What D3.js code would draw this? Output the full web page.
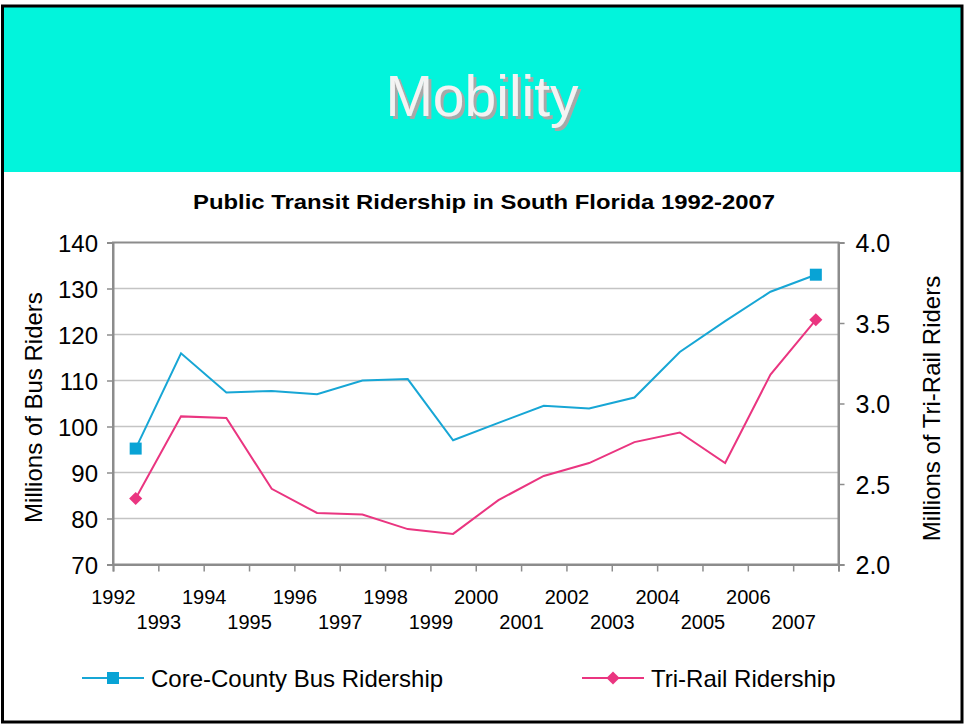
<!DOCTYPE html>
<html>
<head>
<meta charset="utf-8">
<script src="https://cdn.jsdelivr.net/npm/d3@7.9.0/dist/d3.min.js"></script>
<style>
  body { margin: 0; background: #fff; }
  text { font-family: "Liberation Sans", Arial, sans-serif; }
</style>
</head>
<body>
<svg id="chart"></svg>
<script>
const years = [1992, 1993, 1994, 1995, 1996, 1997, 1998, 1999, 2000, 2001, 2002, 2003, 2004, 2005, 2006, 2007];
const busRiders = [95.2, 115.9, 107.4, 107.7, 107.0, 110.0, 110.3, 97.0, 100.8, 104.5, 103.9, 106.3, 116.2, 122.9, 129.3, 133.0];
const triRailRiders = [2.41, 2.92, 2.91, 2.47, 2.32, 2.31, 2.22, 2.19, 2.40, 2.55, 2.63, 2.76, 2.82, 2.63, 3.18, 3.52];
const leftTicks = [70, 80, 90, 100, 110, 120, 130, 140];
const rightTicks = [2.0, 2.5, 3.0, 3.5, 4.0];

const W = 964, H = 725;
const svg = d3.select("#chart").attr("width", W).attr("height", H);

const defs = svg.append("defs");
const shadow = defs.append("filter").attr("id", "shadow")
    .attr("x", "-5%").attr("y", "-5%").attr("width", "115%").attr("height", "120%");
shadow.append("feDropShadow")
    .attr("dx", 3).attr("dy", 3).attr("stdDeviation", 0.4)
    .attr("flood-color", "#a8a8a8").attr("flood-opacity", 1);

// header band
svg.append("rect")
    .attr("x", 3).attr("y", 6).attr("width", 958).attr("height", 166)
    .attr("fill", "#02f4dc");

svg.append("text")
    .attr("x", 482).attr("y", 116)
    .attr("text-anchor", "middle")
    .attr("filter", "url(#shadow)")
    .style("font-size", "57px")
    .style("fill", "#f3f3f3")
    .text("Mobility");

// outer frame
svg.append("rect")
    .attr("x", 2.5).attr("y", 6).attr("width", 959.5).attr("height", 716)
    .attr("fill", "none")
    .attr("stroke", "#000")
    .attr("stroke-width", 3);

svg.append("text")
    .attr("x", 484).attr("y", 209)
    .attr("text-anchor", "middle")
    .attr("textLength", 582)
    .attr("lengthAdjust", "spacingAndGlyphs")
    .style("font-size", "21px")
    .style("font-weight", "bold")
    .text("Public Transit Ridership in South Florida 1992-2007");

// scales
const plotL = 113, plotR = 838.5, plotT = 242.5, plotB = 564.5;
const x = d3.scaleLinear().domain([1992, 2008]).range([plotL, plotR]);
const yL = d3.scaleLinear().domain([70, 140]).range([plotB, plotT]);
const yR = d3.scaleLinear().domain([2, 4]).range([plotB, plotT]);

// gridlines
svg.append("g")
    .selectAll("line")
    .data(leftTicks.slice(1, -1))
    .join("line")
    .attr("x1", plotL).attr("x2", plotR)
    .attr("y1", d => yL(d)).attr("y2", d => yL(d))
    .attr("stroke", "#c4c4c4")
    .attr("stroke-width", 1.5);

// plot frame
svg.append("rect")
    .attr("x", plotL).attr("y", plotT)
    .attr("width", plotR - plotL).attr("height", plotB - plotT)
    .attr("fill", "none")
    .attr("stroke", "#8c8c8c")
    .attr("stroke-width", 2);

// axes
const gL = svg.append("g")
    .attr("transform", `translate(${plotL},0)`)
    .call(d3.axisLeft(yL).tickValues(leftTicks).tickSize(6).tickPadding(9));
gL.selectAll("text").style("font-size", "24px").attr("dy", "0.36em");

const gR = svg.append("g")
    .attr("transform", `translate(${plotR},0)`)
    .call(d3.axisRight(yR).tickValues(rightTicks).tickSize(6).tickPadding(11).tickFormat(d3.format(".1f")));
gR.selectAll("text").style("font-size", "25px").attr("dy", "0.36em");

const gX = svg.append("g")
    .attr("transform", `translate(0,${plotB})`)
    .call(d3.axisBottom(x).tickValues(years.concat([2008])).tickSize(7)
        .tickFormat(d => d === 2008 ? "" : String(d)));
gX.selectAll("text")
    .style("font-size", "20px")
    .attr("y", (d, i) => i % 2 === 0 ? 32 : 57)
    .attr("dy", "0.36em");

[gL, gR, gX].forEach(g => {
    g.select(".domain").attr("stroke", "#8c8c8c").attr("stroke-width", 2);
    g.selectAll(".tick line").attr("stroke", "#8c8c8c").attr("stroke-width", 1.5);
    g.selectAll("text").attr("fill", "#000").style("font-family", "'Liberation Sans', Arial, sans-serif");
});

// axis titles
svg.append("text")
    .attr("transform", `translate(42,${(plotT + plotB) / 2 + 4}) rotate(-90)`)
    .attr("text-anchor", "middle")
    .style("font-size", "24px")
    .text("Millions of Bus Riders");
svg.append("text")
    .attr("transform", `translate(940,${(plotT + plotB) / 2 + 5}) rotate(-90)`)
    .attr("text-anchor", "middle")
    .style("font-size", "24px")
    .text("Millions of Tri-Rail Riders");

// lines
const busColor = "#17a6d5", railColor = "#ea3580";
const busLine = d3.line().x((d, i) => x(years[i] + 0.5)).y(d => yL(d));
const railLine = d3.line().x((d, i) => x(years[i] + 0.5)).y(d => yR(d));

svg.append("path").datum(busRiders)
    .attr("d", busLine).attr("fill", "none")
    .attr("stroke", busColor).attr("stroke-width", 2);
svg.append("path").datum(triRailRiders)
    .attr("d", railLine).attr("fill", "none")
    .attr("stroke", railColor).attr("stroke-width", 2);

// end markers
const ends = [0, years.length - 1];
svg.append("g").selectAll("rect")
    .data(ends)
    .join("rect")
    .attr("x", i => x(years[i] + 0.5) - 6)
    .attr("y", i => yL(busRiders[i]) - 6)
    .attr("width", 12).attr("height", 12)
    .attr("fill", "#08a3d5");
const diamond = d3.symbol().type(d3.symbolDiamond2).size(110);
svg.append("g").selectAll("path")
    .data(ends)
    .join("path")
    .attr("transform", i => `translate(${x(years[i] + 0.5)},${yR(triRailRiders[i])})`)
    .attr("d", diamond)
    .attr("fill", railColor);

// legend
const legend = svg.append("g");
const legendItems = [
    { label: "Core-County Bus Ridership", color: busColor, x1: 82, x2: 144, tx: 151, kind: "square" },
    { label: "Tri-Rail Ridership", color: railColor, x1: 582, x2: 644, tx: 651, kind: "diamond" }
];
const ly = 678;
legendItems.forEach(it => {
    legend.append("line")
        .attr("x1", it.x1).attr("x2", it.x2).attr("y1", ly).attr("y2", ly)
        .attr("stroke", it.color).attr("stroke-width", 2);
    const cx = (it.x1 + it.x2) / 2;
    if (it.kind === "square") {
        legend.append("rect")
            .attr("x", cx - 6).attr("y", ly - 6).attr("width", 12).attr("height", 12)
            .attr("fill", "#08a3d5");
    } else {
        legend.append("path")
            .attr("transform", `translate(${cx},${ly})`)
            .attr("d", diamond).attr("fill", it.color);
    }
    legend.append("text")
        .attr("x", it.tx).attr("y", ly).attr("dy", "0.36em")
        .style("font-size", "24px")
        .text(it.label);
});
</script>
</body>
</html>
